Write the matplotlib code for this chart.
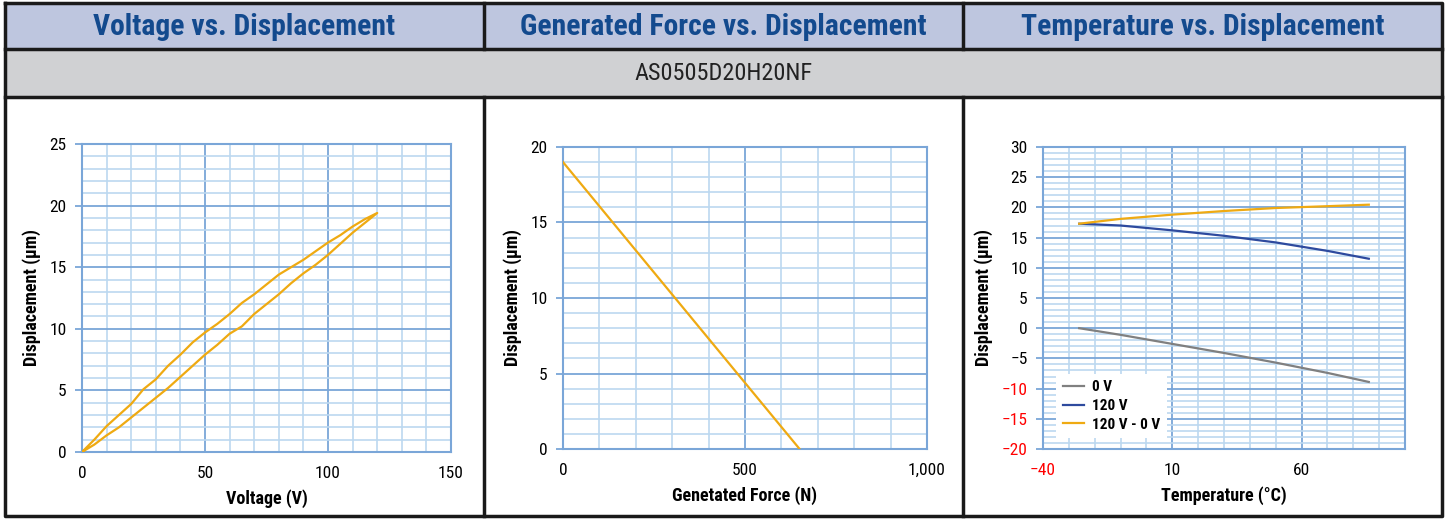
import matplotlib
matplotlib.use("Agg")
import matplotlib.pyplot as plt
import numpy as np
from matplotlib.lines import Line2D
from matplotlib.patches import Rectangle
from matplotlib.ticker import MultipleLocator, FuncFormatter

plt.rcParams['font.family'] = ['Roboto Condensed', 'Liberation Sans Narrow', 'Roboto', 'DejaVu Sans']

# ---- data ----
headers = ["Voltage vs. Displacement", "Generated Force vs. Displacement", "Temperature vs. Displacement"]
model_name = "AS0505D20H20NF"

# voltage loop: ascending branch then descending branch
volt_up = [0, 5, 10, 15, 20, 25, 30, 35, 40, 45, 50, 55, 60, 65, 70, 75, 80, 85, 90, 95, 100, 105, 110, 115, 120]
disp_up = [0, 0.6, 1.35, 2.0, 2.8, 3.6, 4.4, 5.2, 6.1, 7.0, 7.9, 8.7, 9.6, 10.2, 11.2, 12.0, 12.8, 13.7, 14.5, 15.2,
           16.0, 16.9, 17.8, 18.6, 19.4]
volt_down = [120, 115, 110, 105, 100, 95, 90, 85, 80, 75, 70, 65, 60, 55, 50, 45, 40, 35, 30, 25, 20, 15, 10, 5, 0]
disp_down = [19.4, 18.9, 18.3, 17.6, 17.0, 16.3, 15.6, 15.0, 14.4, 13.6, 12.8, 12.1, 11.2, 10.4, 9.7, 8.9, 7.9, 7.0,
             5.9, 5.1, 3.9, 3.0, 2.1, 1.0, 0]

force = [0, 650]
force_disp = [19.0, 0]

temp = [-26, -10, 10, 30, 50, 70, 86]
disp_0v = [0, -1.1, -2.6, -4.1, -5.7, -7.4, -8.9]
disp_120v = [17.3, 17.0, 16.2, 15.3, 14.2, 12.8, 11.5]
disp_diff = [17.3, 18.1, 18.8, 19.4, 19.9, 20.2, 20.45]

# ---- styling ----
W, H = 1447, 519
ORANGE = "#EFAA12"
BLUE = "#2E4A9E"
GRAY = "#808080"
MAJOR = "#7AA6D8"
MINOR = "#BCD8F0"
TITLE = "#134A8E"


def px_rect(left, top, right, bottom):
    return [left / W, 1 - bottom / H, (right - left) / W, (bottom - top) / H]


def style_axes(ax, xmaj, xmin, ymaj, ymin):
    ax.xaxis.set_major_locator(xmaj)
    ax.xaxis.set_minor_locator(xmin)
    ax.yaxis.set_major_locator(ymaj)
    ax.yaxis.set_minor_locator(ymin)
    ax.grid(which='minor', color=MINOR, lw=1.2, zorder=0)
    ax.grid(which='major', color=MAJOR, lw=1.3, zorder=0)
    ax.set_axisbelow(True)
    for s in ax.spines.values():
        s.set_color(MAJOR)
        s.set_linewidth(1.5)
    ax.tick_params(axis='y', which='major', length=5, color=MAJOR, width=1.3, labelsize=12.5, pad=6)
    ax.tick_params(axis='x', which='major', length=0, labelsize=12.5, pad=10)
    ax.tick_params(which='minor', length=0)
    ax.set_ylabel("Displacement (µm)", fontsize=13, fontweight='bold', labelpad=6)


fig = plt.figure(figsize=(W / 100, H / 100), dpi=100)

# ---- table background ----
def fig_rect(x0, y0, x1, y1, color):
    fig.patches.append(Rectangle((x0 / W, 1 - y1 / H), (x1 - x0) / W, (y1 - y0) / H,
                                 transform=fig.transFigure, facecolor=color, edgecolor='none', zorder=0))

fig_rect(5, 3, 1442, 49, "#BEC6DF")
fig_rect(5, 49, 1442, 97, "#D0D1D3")

def fig_line(xs, ys, lw=2.5):
    fig.add_artist(Line2D([x / W for x in xs], [1 - y / H for y in ys], transform=fig.transFigure,
                          color="#1a1a1a", lw=lw, zorder=5))

fig_line([5, 1442, 1442, 5, 5], [3, 3, 516, 516, 3])
fig_line([5, 1442], [49, 49])
fig_line([5, 1442], [97, 97])
for xd in [484, 963]:
    fig_line([xd, xd], [3, 49])
    fig_line([xd, xd], [97, 516])

col_centers = [244.5, 723.5, 1202.5]
for cx, txt in zip(col_centers, headers):
    fig.text(cx / W, 1 - 27 / H, txt, ha='center', va='center', fontsize=21.3, fontweight='bold', color=TITLE)
fig.text(723.5 / W, 1 - 74 / H, model_name, ha='center', va='center', fontsize=17.5, color="#222222")

# ---- chart 1: voltage ----
ax1 = fig.add_axes(px_rect(82, 144, 451, 452))
ax1.plot(volt_up + volt_down[1:], disp_up + disp_down[1:], color=ORANGE, lw=1.6, zorder=3)
ax1.set_xlim(0, 150)
ax1.set_ylim(0, 25)
style_axes(ax1, MultipleLocator(50), MultipleLocator(10), MultipleLocator(5), MultipleLocator(1))
ax1.set_xlabel("Voltage (V)", fontsize=13, fontweight='bold', labelpad=6)

# ---- chart 2: force ----
ax2 = fig.add_axes(px_rect(563, 147, 927, 449))
ax2.plot(force, force_disp, color=ORANGE, lw=1.6, zorder=3)
ax2.set_xlim(0, 1000)
ax2.set_ylim(0, 20)
style_axes(ax2, MultipleLocator(500), MultipleLocator(100), MultipleLocator(5), MultipleLocator(1))
ax2.xaxis.set_major_formatter(FuncFormatter(lambda v, p: f"{int(v):,}"))
ax2.set_xlabel("Genetated Force (N)", fontsize=13, fontweight='bold', labelpad=6)

# ---- chart 3: temperature ----
ax3 = fig.add_axes(px_rect(1043, 147, 1405, 449))
ax3.plot(temp, disp_0v, color=GRAY, lw=1.6, zorder=3, label="0 V")
ax3.plot(temp, disp_120v, color=BLUE, lw=1.6, zorder=3, label="120 V")
ax3.plot(temp, disp_diff, color=ORANGE, lw=1.6, zorder=3, label="120 V - 0 V")
ax3.set_xlim(-40, 100)
ax3.set_ylim(-20, 30)
style_axes(ax3, MultipleLocator(50, offset=10), MultipleLocator(10), MultipleLocator(5), MultipleLocator(1))
ax3.set_xticks([-40, 10, 60])
ax3.set_xlabel("Temperature (°C)", fontsize=13, fontweight='bold', labelpad=6)
for lab in ax3.get_yticklabels():
    if float(lab.get_position()[1]) <= -10:
        lab.set_color("red")
for lab in ax3.get_xticklabels():
    if float(lab.get_position()[0]) < 0:
        lab.set_color("red")
leg = ax3.legend(loc='lower left', bbox_to_anchor=(0.035, 0.035), frameon=True, fancybox=False,
                 edgecolor='none', facecolor='white', framealpha=1, prop={'weight': 'bold', 'size': 11},
                 handlelength=1.4, handletextpad=0.5, labelspacing=0.3, borderpad=0.45, borderaxespad=0)

fig.savefig("out.png", dpi=100)
